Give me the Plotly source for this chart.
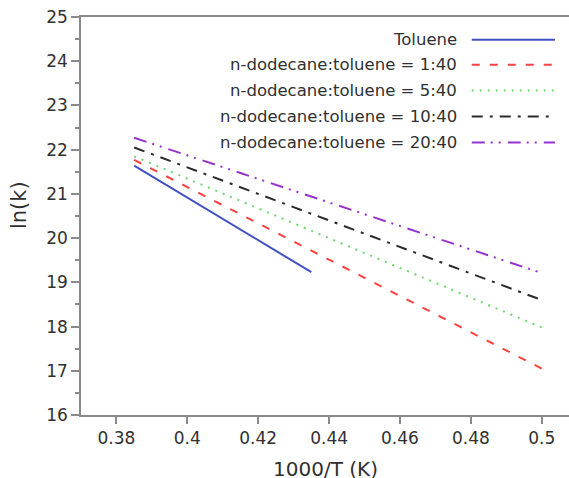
import plotly.graph_objects as go

# Arrhenius fits: ln(k) versus 1000/T for each feed composition
series_names = [
    "Toluene",
    "n-dodecane:toluene = 1:40",
    "n-dodecane:toluene = 5:40",
    "n-dodecane:toluene = 10:40",
    "n-dodecane:toluene = 20:40",
]
inv_temp = [
    [0.385, 0.435],
    [0.385, 0.500],
    [0.385, 0.500],
    [0.385, 0.500],
    [0.385, 0.500],
]
ln_k = [
    [21.64, 19.23],
    [21.77, 17.05],
    [21.85, 17.98],
    [22.05, 18.60],
    [22.27, 19.21],
]
x_ticks = [0.38, 0.40, 0.42, 0.44, 0.46, 0.48, 0.50]
x_tick_labels = ["0.38", "0.4", "0.42", "0.44", "0.46", "0.48", "0.5"]
y_ticks = [16, 17, 18, 19, 20, 21, 22, 23, 24, 25]

colors = ["#4252c4", "#ff4040", "#6cd86c", "#2a2a2a", "#9632cc"]
dashes = ["solid", "8px,10px", "2px,6px", "11px,7px,3px,7px", "13px,6px,2px,6px,2px,7px"]

FONT = "DejaVu Sans"
TXT = "#303030"
AX = "#8a8a8a"

fig = go.Figure()
for name, xs, ys, c, d in zip(series_names, inv_temp, ln_k, colors, dashes):
    fig.add_trace(go.Scatter(x=xs, y=ys, mode="lines", name=name,
                             line=dict(color=c, width=2, dash=d),
                             showlegend=False))

# Key in the upper right: label on the left, line sample on the right
row_y = [0.943, 0.880, 0.8155, 0.750, 0.6845]
for name, c, d, yy in zip(series_names, colors, dashes, row_y):
    fig.add_annotation(x=0.7753, y=yy, xref="paper", yref="paper", text=name,
                       showarrow=False, xanchor="right", yanchor="middle",
                       font=dict(family=FONT, size=16.5, color=TXT))
    fig.add_shape(type="line", xref="paper", yref="paper",
                  x0=0.8007, x1=0.9713, y0=yy, y1=yy,
                  line=dict(color=c, width=2, dash=d))

fig.add_annotation(x=0.5, y=-0.136, xref="paper", yref="paper", text="1000/T (K)",
                   showarrow=False, xanchor="center", yanchor="middle",
                   font=dict(family=FONT, size=20, color=TXT))
fig.add_annotation(x=-0.127, y=0.5276, xref="paper", yref="paper", text="ln(k)",
                   showarrow=False, xanchor="center", yanchor="middle", textangle=-90,
                   font=dict(family=FONT, size=21, color=TXT))

fig.update_xaxes(range=[0.37, 0.5077], tickvals=x_ticks, ticktext=x_tick_labels,
                 showgrid=False, zeroline=False, showline=True, linecolor=AX,
                 linewidth=1.5, mirror=True, ticks="outside", ticklen=7,
                 tickwidth=1.5, tickcolor=AX,
                 tickfont=dict(family=FONT, size=17, color=TXT))
fig.update_yaxes(range=[16, 25], tickvals=y_ticks, showgrid=False, zeroline=False,
                 showline=True, linecolor=AX, linewidth=1.5, mirror=False,
                 ticks="outside", ticklen=8, tickwidth=1.5, tickcolor=AX,
                 minor=dict(dtick=0.5, ticks="outside", ticklen=4, tickwidth=1.5,
                            tickcolor=AX, showgrid=False),
                 tickfont=dict(family=FONT, size=17, color=TXT))

fig.update_layout(width=569, height=478, margin=dict(l=81, r=0, t=17, b=63),
                  plot_bgcolor="white", paper_bgcolor="white")

fig.write_html("out.html")
